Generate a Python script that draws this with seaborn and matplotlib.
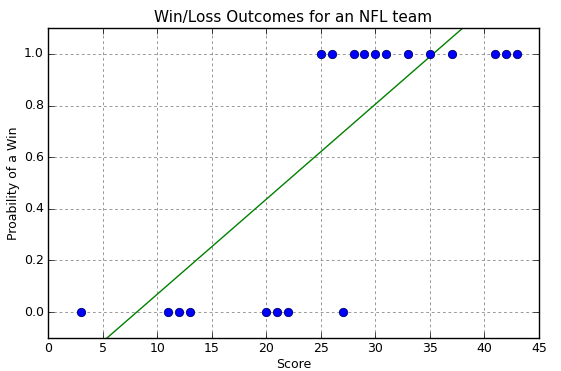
import numpy as np
import pandas as pd
import matplotlib
matplotlib.use("Agg")
import matplotlib.pyplot as plt
import seaborn as sns

scores = [3, 11, 12, 13, 20, 21, 22, 27,
          25, 26, 28, 29, 30, 31, 33, 35, 37, 41, 42, 43]
outcomes = [0, 0, 0, 0, 0, 0, 0, 0,
            1, 1, 1, 1, 1, 1, 1, 1, 1, 1, 1, 1]
fit_slope = 0.0368
fit_intercept = -0.299

df = pd.DataFrame({'Score': scores, 'Win': outcomes})

plt.style.use('classic')
sns.set_style('ticks')
plt.rcParams['font.family'] = ['DejaVu Sans']
plt.rcParams['text.color'] = 'black'
plt.rcParams['axes.labelcolor'] = 'black'
plt.rcParams['xtick.color'] = 'black'
plt.rcParams['ytick.color'] = 'black'

fig = plt.figure(figsize=(5.61, 3.71), dpi=100, facecolor='white')
ax = fig.add_axes([0.0856, 0.089, 0.8752, 0.8355])

x_line = np.linspace(0, 45, 100)
line_df = pd.DataFrame({'Score': x_line, 'Win': fit_slope * x_line + fit_intercept})
sns.lineplot(data=line_df, x='Score', y='Win', color='green', linewidth=1, ax=ax, zorder=2)
sns.scatterplot(data=df, x='Score', y='Win', color='blue', edgecolor='#000066',
                s=36, linewidth=0.6, ax=ax, zorder=3)

ax.set_xlim(0, 45)
ax.set_ylim(-0.1, 1.1)
ax.set_xticks(np.arange(0, 46, 5))
ax.set_yticks(np.arange(0, 1.01, 0.2))
ax.set_yticklabels([f'{v:.1f}' for v in np.arange(0, 1.01, 0.2)])
ax.grid(True, linestyle=(0, (2, 2)), color='#888888', linewidth=0.6)
ax.set_axisbelow(True)
ax.tick_params(labelsize=9, direction='in', length=4, top=True, right=True, pad=3)
for s in ax.spines.values():
    s.set_linewidth(1)
    s.set_color('black')
ax.set_xlabel('Score', fontsize=9, labelpad=2)
ax.set_ylabel('Proability of a Win', fontsize=9, labelpad=3)
ax.set_title('Win/Loss Outcomes for an NFL team', fontsize=11, pad=4)

fig.savefig('out.png', dpi=100, facecolor='white')
